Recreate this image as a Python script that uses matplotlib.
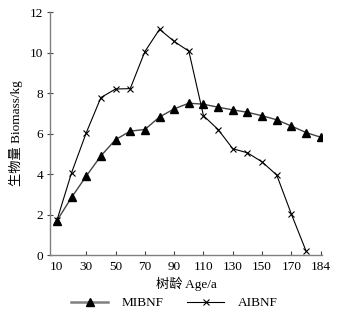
import matplotlib
matplotlib.use("Agg")
import matplotlib.pyplot as plt

ages = [10, 20, 30, 40, 50, 60, 70, 80, 90, 100, 110, 120, 130, 140, 150, 160, 170, 180, 184]
mibnf = [1.7, 2.85, 3.9, 4.9, 5.7, 6.12, 6.2, 6.82, 7.22, 7.5, 7.45, 7.3, 7.17, 7.05, 6.88, 6.68, 6.37, 6.05, 5.82]
aibnf_ages = [10, 20, 30, 40, 50, 60, 70, 80, 90, 100, 110, 120, 130, 140, 150, 160, 170, 180]
aibnf = [1.72, 4.07, 6.04, 7.78, 8.2, 8.22, 10.05, 11.15, 10.55, 10.07, 6.88, 6.2, 5.25, 5.05, 4.6, 3.95, 2.02, 0.2]
tick_labels = ["10", "30", "50", "70", "90", "110", "130", "150", "170", "184"]

serif = ["Liberation Serif", "Noto Sans CJK SC", "DejaVu Sans"]
plt.rcParams['font.family'] = serif

fig = plt.figure(figsize=(3.42, 3.18), dpi=100)
ax = fig.add_axes([0.146, 0.198, 0.796, 0.764])

pos_m = list(range(len(ages)))
pos_a = list(range(len(aibnf_ages)))

ax.plot(pos_m, mibnf, color="#444444", lw=1.0, marker="^", markersize=5.5,
        markerfacecolor="black", markeredgecolor="black", label="MIBNF")
ax.plot(pos_a, aibnf, color="black", lw=0.8, marker="x", markersize=5,
        markeredgewidth=0.8, label="AIBNF")

ax.set_xlim(-0.48, 18.1)
ax.set_ylim(0, 12)
ax.set_yticks([0, 2, 4, 6, 8, 10, 12])
ax.set_xticks(list(range(0, 19, 2)))
ax.set_xticklabels(tick_labels)

for s in ["top", "right"]:
    ax.spines[s].set_visible(False)
for s in ["left", "bottom"]:
    ax.spines[s].set_color("#808080")
    ax.spines[s].set_linewidth(1.0)

ax.tick_params(axis="both", labelsize=9.5, color="#444444", length=3, width=0.8)
ax.tick_params(axis="x", direction="in", pad=4)
ax.tick_params(axis="y", direction="inout", length=4, pad=3)
ax.get_xaxis().get_major_ticks()[0].tick1line.set_visible(False)

ax.set_xlabel("树龄 Age/a", fontsize=9.5, labelpad=3)
ax.set_ylabel("生物量 Biomass/kg", fontsize=9.5, labelpad=5)

leg = fig.legend(loc="center", bbox_to_anchor=(0.51, 0.047), ncol=2, frameon=False,
                 fontsize=9.5, handlelength=2.8, columnspacing=1.8, handletextpad=1.0)
leg.get_lines()[0].set_color("#808080")
leg.get_lines()[0].set_linewidth(1.8)

fig.savefig("out.png", dpi=100)
